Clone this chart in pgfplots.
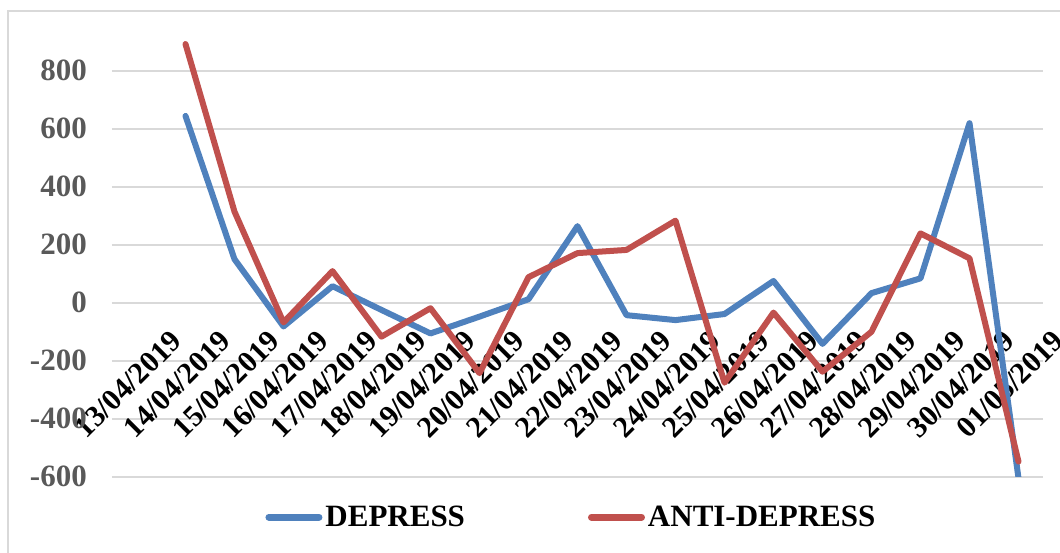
\documentclass[border=0pt]{standalone}
\usepackage{fontspec}
\setmainfont{Liberation Serif}
\usepackage{pgfplots}
\pgfplotsset{compat=1.18}
\definecolor{blueS}{HTML}{4F81BD}
\definecolor{redS}{HTML}{C0504D}
\definecolor{gridc}{HTML}{D9D9D9}
\definecolor{tickc}{HTML}{595959}
\begin{document}
\begin{tikzpicture}[x=1pt,y=1pt]
\path[use as bounding box] (-112,-75.3) rectangle (948,476.7);
\begin{axis}[
  at={(0,0)}, anchor=south west,
  scale only axis, width=931pt, height=464pt,
  xmin=-0.5, xmax=18.5, ymin=-600, ymax=1000,
  xtick={0,...,18},
  xticklabels={13/04/2019,14/04/2019,15/04/2019,16/04/2019,17/04/2019,18/04/2019,19/04/2019,20/04/2019,21/04/2019,22/04/2019,23/04/2019,24/04/2019,25/04/2019,26/04/2019,27/04/2019,28/04/2019,29/04/2019,30/04/2019,01/05/2019},
  ytick={-600,-400,-200,0,200,400,600,800},
  yticklabels={-600,-400,-200,0,200,400,600,800},
  major tick length=0pt,
  axis line style={draw=none},
  ymajorgrids, grid style={gridc, line width=2pt},
  y tick label style={font=\fontsize{31}{31}\selectfont\bfseries, text=tickc, inner sep=0pt, anchor=east, xshift=-25pt},
  x tick label style={font=\fontsize{30}{30}\selectfont\bfseries, inner sep=0pt, xshift=40pt, yshift=141pt, rotate=45, anchor=east},
  legend style={at={(0.494,-0.087)}, anchor=center, draw=none, fill=none, legend columns=2,
    font=\fontsize{31}{31}\selectfont\bfseries,
    nodes={inner xsep=3pt, inner ysep=0pt},
    /tikz/every even column/.append style={column sep=120pt}},
  legend image code/.code={\draw[#1, line width=7pt, line cap=round] (0pt,0pt) -- (50pt,0pt);},
  every axis plot/.append style={line width=6pt, line join=round, line cap=round},
]
\addplot[blueS] coordinates {
(1,644) (2,150) (3,-82) (4,57) (5,-25) (6,-106) (7,-48) (8,12) (9,264) (10,-43)
(11,-60) (12,-39) (13,75) (14,-142) (15,33) (16,84) (17,619) (18,-605)};
\addlegendentry{DEPRESS}
\addplot[redS] coordinates {
(1,892) (2,314) (3,-68) (4,109) (5,-117) (6,-19) (7,-243) (8,88) (9,171) (10,182)
(11,283) (12,-276) (13,-34) (14,-238) (15,-100) (16,239) (17,153) (18,-548)};
\addlegendentry{ANTI-DEPRESS}
\end{axis}
\draw[gridc, line width=2pt] (-103.5,-80) -- (-103.5,466) -- (952,466);
\end{tikzpicture}
\end{document}
